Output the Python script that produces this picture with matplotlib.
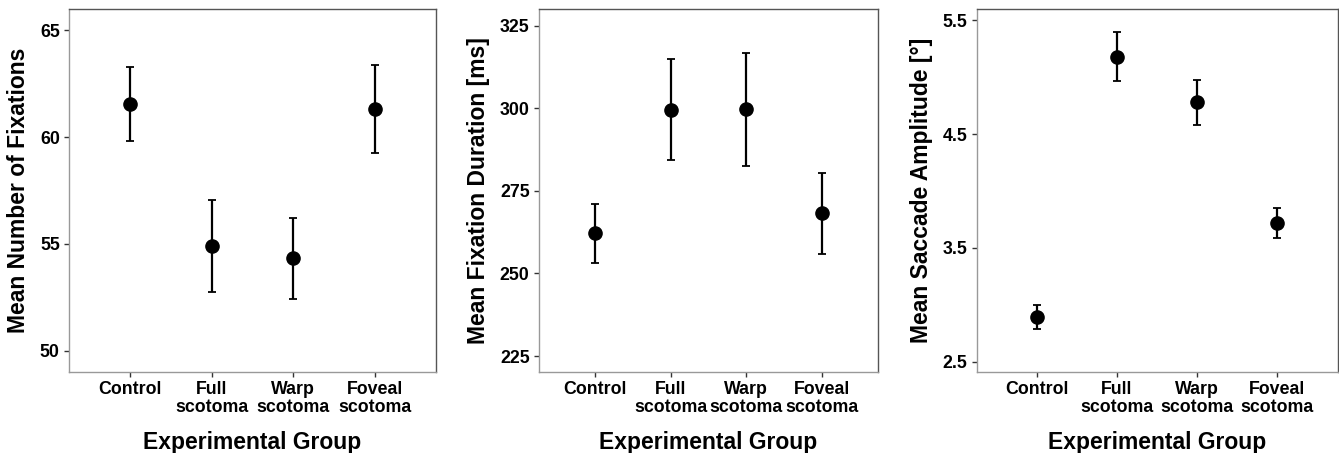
import matplotlib.pyplot as plt
import numpy as np

plt.rcParams['font.family'] = ['Liberation Sans', 'DejaVu Sans']
plt.rcParams['font.weight'] = 'bold'

groups = ['Control', 'Full\nscotoma', 'Warp\nscotoma', 'Foveal\nscotoma']

# mean number of fixations
fix_mean = [61.56, 54.91, 54.33, 61.34]
fix_err = [1.73, 2.16, 1.9, 2.06]

# mean fixation duration [ms]
dur_mean = [262.1, 299.5, 299.7, 268.2]
dur_err = [8.9, 15.3, 17.1, 12.3]

# mean saccade amplitude [deg]
amp_mean = [2.89, 5.18, 4.78, 3.72]
amp_err = [0.105, 0.215, 0.195, 0.13]

panels = [
    (fix_mean, fix_err, 'Mean Number of Fixations', (49, 66), [50, 55, 60, 65], None),
    (dur_mean, dur_err, 'Mean Fixation Duration [ms]', (220.2, 330), [225, 250, 275, 300, 325], None),
    (amp_mean, amp_err, 'Mean Saccade Amplitude [°]', (2.41, 5.6), [2.5, 3.5, 4.5, 5.5], '%.1f'),
]
lefts = [0.0515, 0.4023, 0.7294]
widths = [0.2741, 0.2536, 0.2696]

fig = plt.figure(figsize=(13.39, 4.53), dpi=100)
x = np.arange(1, 5)

for (mean, err, ylab, ylim, yticks, fmt), l, w in zip(panels, lefts, widths):
    ax = fig.add_axes([l, 0.1788, w, 0.8013])
    ax.errorbar(x, mean, yerr=err, fmt='o', color='black', ms=9.5,
                elinewidth=1.6, capsize=2.8, capthick=1.3)
    ax.set_xlim(0.25, 4.75)
    ax.set_ylim(*ylim)
    ax.set_yticks(yticks)
    if fmt:
        ax.set_yticklabels([fmt % v for v in yticks])
    ax.set_xticks(x)
    ax.set_xticklabels(groups, linespacing=1.05)
    ax.tick_params(labelsize=12.8, length=3.6, width=1, color='#333333', pad=3)
    for s in ['left', 'bottom']:
        ax.spines[s].set_color('#999999')
    for s in ['top', 'right']:
        ax.spines[s].set_color('#555555')
    for s in ax.spines.values():
        s.set_linewidth(1.0)
    ax.set_ylabel(ylab, fontsize=16.5, fontweight='bold', labelpad=7)
    ax.set_xlabel('Experimental Group', fontsize=16.5, fontweight='bold', labelpad=11)

fig.savefig('out.png', dpi=100)
